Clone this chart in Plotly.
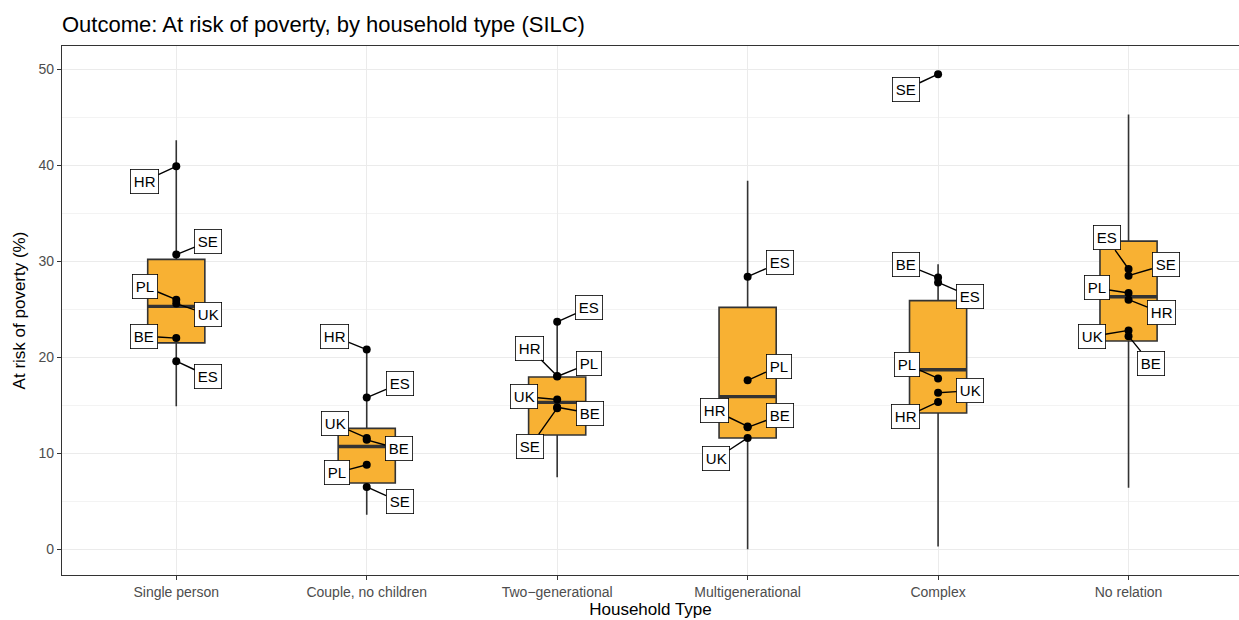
import plotly.graph_objects as go

# Household types on the x axis
categories = ["Single person", "Couple, no children", "Two\u2212generational",
              "Multigenerational", "Complex", "No relation"]

# Box summary statistics (% at risk of poverty)
lower_whisker = [14.9, 3.6, 7.5, 0.0, 0.3, 6.4]
q1 = [21.5, 6.9, 11.9, 11.6, 14.2, 21.7]
median = [25.3, 10.7, 15.3, 15.9, 18.7, 26.3]
q3 = [30.2, 12.6, 17.95, 25.2, 25.9, 32.1]
upper_whisker = [42.6, 20.8, 23.7, 38.4, 29.7, 45.3]

# Country values per household type (None = not available)
BE = [22.0, 11.4, 14.8, 12.7, 28.3, 22.2]
ES = [19.6, 15.8, 23.7, 28.4, 27.8, 29.2]
HR = [39.9, 20.8, 18.05, 12.8, 15.35, 26.0]
PL = [26.0, 8.8, 18.0, 17.6, 17.8, 26.7]
SE = [30.7, 6.5, 14.7, None, 49.5, 28.5]
UK = [25.6, 11.6, 15.6, 11.6, 16.3, 22.8]

countries = {"BE": BE, "ES": ES, "HR": HR, "PL": PL, "SE": SE, "UK": UK}

# Repelled label offsets in pixels (dx, dy) for each country and household type
label_offsets = {
    "HR": [(-32, 15), (-32, -13), (-28, -28), (-33, -16), (-33, 15), (33, 13)],
    "SE": [(32, -13), (33, 15), (-27, 38), (0, 0), (-32, 15), (37, -11)],
    "PL": [(-31, -13), (-30, 8), (32, -13), (31, -14), (-31, -14), (-32, -5)],
    "UK": [(32, 11), (-32, -14), (-33, -3), (-32, 21), (32, -2), (-37, 6)],
    "BE": [(-32, -2), (32, 9), (33, 6), (32, -12), (-32, -13), (22, 27)],
    "ES": [(32, 15), (33, -14), (32, -14), (32, -14), (32, 14), (-22, -31)],
}

xpos = list(range(len(categories)))
box_half = 0.15
box_fill = "#F8B133"
edge = "#333333"

fig = go.Figure()

fig.add_trace(go.Box(
    x=xpos, q1=q1, median=median, q3=q3,
    lowerfence=lower_whisker, upperfence=upper_whisker,
    width=2 * box_half, whiskerwidth=0,
    fillcolor=box_fill, line=dict(color=edge, width=1.6),
    boxpoints=False, showlegend=False, hoverinfo="skip",
))

# Thicker median bars
for i, m in enumerate(median):
    fig.add_trace(go.Scatter(
        x=[xpos[i] - box_half, xpos[i] + box_half], y=[m, m],
        mode="lines", line=dict(color=edge, width=3.4),
        showlegend=False, hoverinfo="skip",
    ))

# Country points
for code, vals in countries.items():
    xs = [x for x, v in zip(xpos, vals) if v is not None]
    ys = [v for v in vals if v is not None]
    fig.add_trace(go.Scatter(
        x=xs, y=ys, mode="markers",
        marker=dict(color="black", size=8),
        showlegend=False, name=code,
    ))

# Country labels
annotations = []
for code, vals in countries.items():
    for i, v in enumerate(vals):
        if v is None:
            continue
        dx, dy = label_offsets[code][i]
        annotations.append(dict(
            x=xpos[i], y=v, xref="x", yref="y", text=code,
            showarrow=True, arrowhead=0, arrowwidth=1.4, arrowcolor="black",
            ax=dx, ay=dy, standoff=0, startstandoff=0,
            font=dict(family="Liberation Sans, Arial, sans-serif", size=15, color="black"),
            bgcolor="white", bordercolor="black", borderwidth=0.8, borderpad=3,
        ))

fig.update_layout(
    width=1239, height=620,
    margin=dict(l=62, r=0, t=46, b=45),
    paper_bgcolor="white", plot_bgcolor="white",
    font=dict(family="Liberation Sans, Arial, sans-serif"),
    title=dict(text="Outcome: At risk of poverty, by household type (SILC)",
               x=0, xref="paper", xanchor="left", y=1 - 24 / 620, yanchor="middle",
               font=dict(size=22, color="black")),
    annotations=annotations,
    showlegend=False,
)

fig.update_xaxes(
    range=[-0.6, 5.58], tickmode="array", tickvals=xpos, ticktext=categories,
    showgrid=True, gridcolor="#EBEBEB", gridwidth=1.2,
    showline=True, linecolor=edge, linewidth=1.3, mirror=True,
    ticks="outside", ticklen=4, tickcolor=edge,
    tickfont=dict(size=14, color="#4D4D4D"), zeroline=False,
    title=dict(text="Household Type", font=dict(size=17, color="black"), standoff=4),
)

fig.update_yaxes(
    range=[-2.68, 52.43], tickmode="array", tickvals=[0, 10, 20, 30, 40, 50],
    showgrid=True, gridcolor="#EBEBEB", gridwidth=1.2,
    minor=dict(tickmode="array", tickvals=[5, 15, 25, 35, 45],
               showgrid=True, gridcolor="#F3F3F3", gridwidth=0.8, ticks=""),
    showline=True, linecolor=edge, linewidth=1.3, mirror=True,
    ticks="outside", ticklen=4, tickcolor=edge,
    tickfont=dict(size=14, color="#4D4D4D"), zeroline=False,
    title=dict(text="At risk of poverty (%)", font=dict(size=17, color="black"), standoff=8),
)

fig.write_html("out.html")
